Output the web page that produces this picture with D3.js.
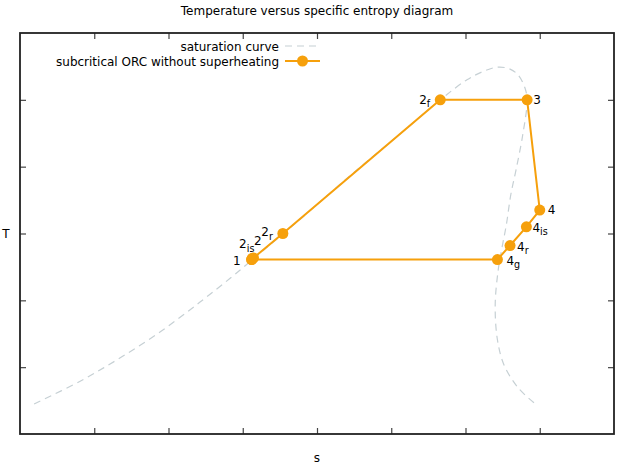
<!DOCTYPE html>
<html>
<head>
    <title>Temperature versus specific entropy diagram</title>
    <script src="https://d3js.org/d3.v7.min.js"></script>
</head>
<body style="margin:0;background:#fff">
    <script>
        const [width, height] = [619, 467]
        const margin = {top: 33, right: 5, bottom: 33, left: 20}

        // saturation curve (s, T), arbitrary units - liquid branch then vapour branch
        const satS = [0.19, 0.81, 1.35, 1.89, 2.42, 2.83, 3.11, 3.77, 4.44, 5.12, 5.66, 6.02, 6.25, 6.44, 6.60, 6.71, 6.80, 6.83,
                      6.77, 6.68, 6.61, 6.55, 6.49, 6.44, 6.40, 6.43, 6.52, 6.71, 6.94];
        const satT = [0.45, 0.79, 1.14, 1.53, 1.97, 2.33, 2.59, 3.21, 3.86, 4.49, 5.00, 5.30, 5.43, 5.49, 5.46, 5.37, 5.18, 5.00,
                      4.47, 3.95, 3.58, 3.13, 2.78, 2.45, 1.93, 1.41, 1.03, 0.69, 0.45];

        // cycle states
        const cycleNames = ["1", "2is", "2", "2r", "2f", "3", "4", "4is", "4r", "4g", "1"];
        const cycleS = [3.12, 3.13, 3.145, 3.54, 5.66, 6.83, 7.00, 6.82, 6.60, 6.43, 3.12];
        const cycleT = [2.61, 2.63, 2.635, 3.00, 5.00, 5.00, 3.35, 3.10, 2.82, 2.61, 2.61];

        const xTicks = [1, 2, 3, 4, 5, 6, 7];
        const yTicks = [1, 2, 3, 4, 5];

        const orange = "#f6a00c";
        const gray = "#c6d0d4";
        const font = "DejaVu Sans";

        // label placement (dx, dy, anchor) relative to the point
        const labelStyle = {
            "1":   [-11, 5.5, "end"],
            "2is": [2, -10, "end"],
            "2":   [0.5, -13, "start"],
            "2r":  [-10, 2.5, "end"],
            "2f":  [-10, 4, "end"],
            "3":   [6, 4, "start"],
            "4":   [8, 4, "start"],
            "4is": [6, 5, "start"],
            "4r":  [7, 5, "start"],
            "4g":  [9, 5, "start"]
        };

        const x = d3.scaleLinear().domain([0, 8]).range([margin.left, width - margin.right]);
        const y = d3.scaleLinear().domain([0, 6]).range([height - margin.bottom, margin.top]);

        const svg = d3.select("body")
            .append("svg")
            .attr("width", width)
            .attr("height", height)
            .style("font-family", font);

        // axes, ticks pointing inwards, no labels, mirrored
        const tk = 6;
        const axes = [
            [d3.axisBottom(x).tickValues(xTicks).tickSize(-tk), `translate(0,${y(0)})`],
            [d3.axisTop(x).tickValues(xTicks).tickSize(-tk), `translate(0,${y(6)})`],
            [d3.axisLeft(y).tickValues(yTicks).tickSize(-tk), `translate(${x(0)},0)`],
            [d3.axisRight(y).tickValues(yTicks).tickSize(-tk), `translate(${x(8)},0)`]
        ];
        axes.forEach(([ax, tr]) => {
            const g = svg.append("g").attr("transform", tr).call(ax.tickFormat(""));
            g.select(".domain").remove();
            g.selectAll(".tick line").style("stroke", "#444").style("stroke-width", 1.2);
        });

        svg.append("rect")
            .attr("x", x(0)).attr("y", y(6))
            .attr("width", x(8) - x(0)).attr("height", y(0) - y(6))
            .style("fill", "none").style("stroke", "#222").style("stroke-width", 1.8);

        // saturation curve
        const satData = satS.map((s, i) => ({s: s, T: satT[i]}));
        const line = d3.line().x(d => x(d.s)).y(d => y(d.T)).curve(d3.curveCatmullRom);
        svg.append("path")
            .datum(satData)
            .attr("d", line)
            .style("fill", "none")
            .style("stroke", gray)
            .style("stroke-width", 1.2)
            .style("stroke-dasharray", "7,5");

        // cycle
        const cycle = cycleS.map((s, i) => ({name: cycleNames[i], s: s, T: cycleT[i]}));
        svg.append("path")
            .datum(cycle)
            .attr("d", d3.line().x(d => x(d.s)).y(d => y(d.T)))
            .style("fill", "none")
            .style("stroke", orange)
            .style("stroke-width", 2);

        svg.selectAll(".pt")
            .data(cycle)
            .enter()
            .append("circle")
            .attr("cx", d => x(d.s))
            .attr("cy", d => y(d.T))
            .attr("r", 5.5)
            .style("fill", orange);

        // point labels with subscripts
        const labels = svg.selectAll(".lbl")
            .data(cycle.slice(0, -1))
            .enter()
            .append("text")
            .attr("x", d => x(d.s) + labelStyle[d.name][0])
            .attr("y", d => y(d.T) + labelStyle[d.name][1])
            .attr("text-anchor", d => labelStyle[d.name][2])
            .style("font-size", "12px")
            .style("fill", "#000");
        labels.append("tspan").text(d => d.name[0]);
        labels.filter(d => d.name.length > 1)
            .append("tspan")
            .attr("dy", 3.5)
            .style("font-size", "9.6px")
            .text(d => d.name.slice(1));

        // title and axis labels
        svg.append("text")
            .attr("x", (x(0) + x(8)) / 2).attr("y", 15)
            .attr("text-anchor", "middle")
            .style("font-size", "12px")
            .text("Temperature versus specific entropy diagram");
        svg.append("text")
            .attr("x", (x(0) + x(8)) / 2).attr("y", 462)
            .attr("text-anchor", "middle")
            .style("font-size", "12px")
            .text("s");
        svg.append("text")
            .attr("x", 6).attr("y", y(3) + 4)
            .attr("text-anchor", "middle")
            .style("font-size", "12px")
            .text("T");

        // legend
        const legend = [
            {label: "saturation curve", color: gray, dash: "7,5", w: 1.2, marker: false},
            {label: "subcritical ORC without superheating", color: orange, dash: null, w: 2, marker: true}
        ];
        const lg = svg.selectAll(".leg")
            .data(legend)
            .enter()
            .append("g")
            .attr("transform", (d, i) => `translate(0,${46 + i * 15})`);
        lg.append("text")
            .attr("x", 279).attr("y", 4.5)
            .attr("text-anchor", "end")
            .style("font-size", "12px")
            .text(d => d.label);
        lg.append("line")
            .attr("x1", 285).attr("x2", 320)
            .style("stroke", d => d.color)
            .style("stroke-width", d => d.w)
            .style("stroke-dasharray", d => d.dash);
        lg.filter(d => d.marker)
            .append("circle")
            .attr("cx", 302.5).attr("r", 5.5)
            .style("fill", d => d.color);
    </script>
</body>
</html>
